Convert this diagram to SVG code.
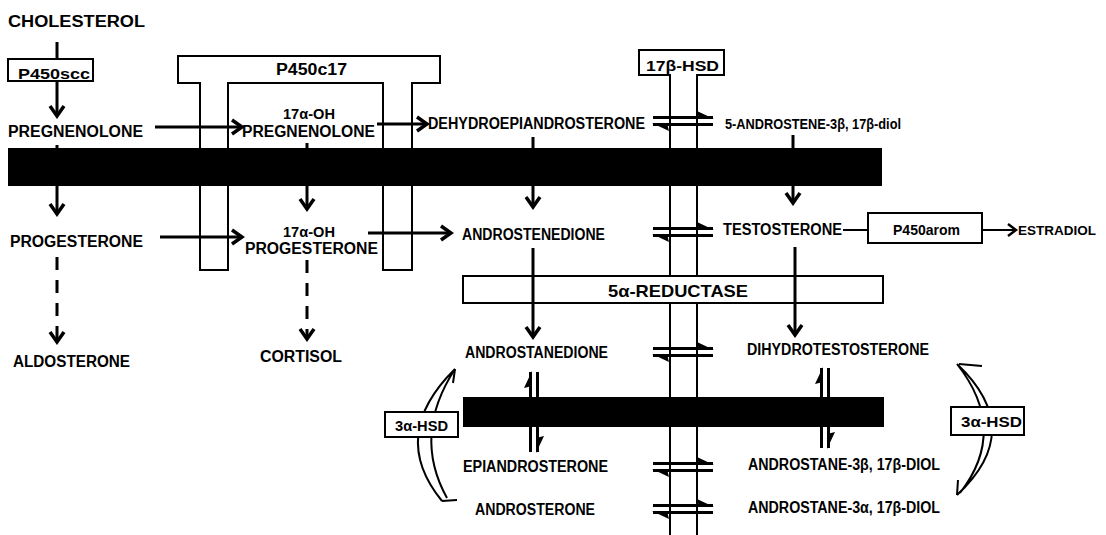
<svg xmlns="http://www.w3.org/2000/svg" xmlns:xlink="http://www.w3.org/1999/xlink" width="1106" height="535" viewBox="0 0 1106 535">
<style>
.t{font-family:"Liberation Sans",Arial,sans-serif;font-weight:bold;font-size:16px;fill:#000}
.s{font-size:15px}
.ln{stroke:#000;stroke-width:3;fill:none}
.th{stroke:#000;stroke-width:2;fill:none}
.box{fill:#fff;stroke:#000;stroke-width:2}
.bar{fill:#000}
.dash{stroke-dasharray:13 10}
</style>
<defs>
<marker id="ah" markerUnits="userSpaceOnUse" markerWidth="16" markerHeight="18" viewBox="0 0 16 18" refX="13" refY="9" orient="auto">
<path d="M3,2 L13,9 L3,16" fill="none" stroke="#000" stroke-width="3.5"/>
</marker>
<marker id="ahs" markerUnits="userSpaceOnUse" markerWidth="14" markerHeight="16" viewBox="0 0 14 16" refX="11" refY="8" orient="auto">
<path d="M3,2 L11,8 L3,14" fill="none" stroke="#000" stroke-width="2.5"/>
</marker>
<g id="eq">
<path d="M0,-3.5 H60 M0,3.5 H60" stroke="#000" stroke-width="3" fill="none"/>
<path d="M61,-2 L44,-10 L46,-2 Z M-1,2 L16,10 L14,2 Z" fill="#000"/>
</g>
<g id="veq">
<path d="M-3.5,0 V80 M3.5,0 V80" stroke="#000" stroke-width="3" fill="none"/>
<path d="M-2,-1 L-10,16 L-2,14 Z M2,81 L10,64 L2,66 Z" fill="#000"/>
</g>
</defs>
<rect width="1106" height="535" fill="#fff"/>

<g id="enzyme-P450c17">
<path class="box" d="M200,270 V83 H178 V56 H440 V83 H412 V270 H383 V83 H228 V270 Z"/>
<text class="t" x="276" y="75" textLength="71" lengthAdjust="spacingAndGlyphs">P450c17</text>
</g>
<g id="enzyme-17bHSD">
<path class="box" d="M670,535 V75 H639 V50 H724 V75 H697 V535"/>
<text class="t s" x="646" y="71" textLength="73" lengthAdjust="spacingAndGlyphs">17β-HSD</text>
</g>
<g id="enzyme-5aReductase">
<rect class="box" x="463" y="276" width="420" height="27"/>
<text class="t" x="608" y="297" style="font-size:17px" textLength="140" lengthAdjust="spacingAndGlyphs">5α-REDUCTASE</text>
</g>

<g id="vertical-equilibria">
<use xlink:href="#veq" x="534" y="372"/>
<use xlink:href="#veq" x="825" y="368"/>
</g>

<g id="membranes">
<rect class="bar" x="8" y="148" width="874" height="38"/>
<rect class="bar" x="463" y="397" width="421" height="30"/>
</g>

<g id="connectors">
<path class="ln" d="M57,42 V59"/>
<path class="ln" d="M57,81 V116" marker-end="url(#ah)"/>
<path class="ln" d="M57,145 V214" marker-end="url(#ah)"/>
<path class="ln dash" d="M57,257 V342" marker-end="url(#ah)"/>
<path class="ln" d="M155,127 H242" marker-end="url(#ah)"/>
<path class="ln" d="M160,237 H242" marker-end="url(#ah)"/>
<path class="ln" d="M307,143 V209" marker-end="url(#ah)"/>
<path class="ln dash" d="M307,260 V339" marker-end="url(#ah)"/>
<path class="ln" d="M377,124 H427" marker-end="url(#ah)"/>
<path class="ln" d="M368,233 H451" marker-end="url(#ah)"/>
<path class="ln" d="M533,137 V207" marker-end="url(#ah)"/>
<path class="ln" d="M793,135 V203" marker-end="url(#ah)"/>
<path class="ln" d="M533,248 V337" marker-end="url(#ah)"/>
<path class="ln" d="M795,247 V335" marker-end="url(#ah)"/>
<path class="th" d="M843,230 H868"/>
<path class="th" d="M982,230 H1016" marker-end="url(#ahs)"/>
<use xlink:href="#eq" x="653" y="121"/>
<use xlink:href="#eq" x="653" y="232"/>
<use xlink:href="#eq" x="653" y="352"/>
<use xlink:href="#eq" x="653" y="467"/>
<use xlink:href="#eq" x="653" y="509"/>
<path class="th" d="M455,369 Q388,435 442,501 M455,369 Q412,435 447,498"/>
<path class="th" d="M455,369 L453,383 M442,501 L457,500"/>
<path class="th" d="M957,364 Q1027,430 957,495 M957,364 Q1009,430 960,493"/>
<path class="th" d="M959,364 L982,366 M957,495 L958,480"/>
</g>

<g id="node-cholesterol"><text class="t" x="8" y="27" textLength="137" lengthAdjust="spacingAndGlyphs">CHOLESTEROL</text></g>
<g id="enzyme-P450scc">
<rect class="box" x="8" y="59" width="85" height="22"/>
<text class="t s" x="18" y="79" textLength="72" lengthAdjust="spacingAndGlyphs">P450scc</text>
</g>
<g id="node-pregnenolone"><text class="t" x="8" y="137" textLength="135" lengthAdjust="spacingAndGlyphs">PREGNENOLONE</text></g>
<g id="node-17oh-pregnenolone">
<text class="t s" x="283" y="119" textLength="52" lengthAdjust="spacingAndGlyphs">17α-OH</text>
<text class="t" x="242" y="137" textLength="133" lengthAdjust="spacingAndGlyphs">PREGNENOLONE</text>
</g>
<g id="node-dhea"><text class="t" x="428" y="129" textLength="217" lengthAdjust="spacingAndGlyphs">DEHYDROEPIANDROSTERONE</text></g>
<g id="node-androstenediol"><text class="t s" x="725" y="129" textLength="176" lengthAdjust="spacingAndGlyphs">5-ANDROSTENE-3β, 17β-diol</text></g>
<g id="node-progesterone"><text class="t" x="10" y="247" textLength="133" lengthAdjust="spacingAndGlyphs">PROGESTERONE</text></g>
<g id="node-17oh-progesterone">
<text class="t s" x="283" y="237" textLength="52" lengthAdjust="spacingAndGlyphs">17α-OH</text>
<text class="t" x="245" y="254" textLength="133" lengthAdjust="spacingAndGlyphs">PROGESTERONE</text>
</g>
<g id="node-androstenedione"><text class="t" x="462" y="240" textLength="143" lengthAdjust="spacingAndGlyphs">ANDROSTENEDIONE</text></g>
<g id="node-testosterone"><text class="t" x="723" y="235" textLength="119" lengthAdjust="spacingAndGlyphs">TESTOSTERONE</text></g>
<g id="enzyme-P450arom">
<rect class="box" x="868" y="213" width="114" height="30"/>
<text class="t s" x="893" y="235" textLength="67" lengthAdjust="spacingAndGlyphs">P450arom</text>
</g>
<g id="node-estradiol"><text class="t" x="1018" y="235" style="font-size:13.5px">ESTRADIOL</text></g>
<g id="node-aldosterone"><text class="t" x="13" y="367" textLength="117" lengthAdjust="spacingAndGlyphs">ALDOSTERONE</text></g>
<g id="node-cortisol"><text class="t" x="260" y="362" textLength="82" lengthAdjust="spacingAndGlyphs">CORTISOL</text></g>
<g id="node-androstanedione"><text class="t" x="465" y="358" textLength="143" lengthAdjust="spacingAndGlyphs">ANDROSTANEDIONE</text></g>
<g id="node-dht"><text class="t" x="747" y="355" textLength="182" lengthAdjust="spacingAndGlyphs">DIHYDROTESTOSTERONE</text></g>
<g id="enzyme-3aHSD-left">
<rect class="box" x="385" y="412" width="73" height="25"/>
<text class="t s" x="395" y="431" textLength="53" lengthAdjust="spacingAndGlyphs">3α-HSD</text>
</g>
<g id="enzyme-3aHSD-right">
<rect class="box" x="951" y="407" width="73" height="28"/>
<text class="t s" x="961" y="427" textLength="61" lengthAdjust="spacingAndGlyphs">3α-HSD</text>
</g>
<g id="node-epiandrosterone"><text class="t" x="463" y="472" textLength="145" lengthAdjust="spacingAndGlyphs">EPIANDROSTERONE</text></g>
<g id="node-androsterone"><text class="t" x="475" y="515" textLength="120" lengthAdjust="spacingAndGlyphs">ANDROSTERONE</text></g>
<g id="node-androstane-3b-diol"><text class="t" x="748" y="470" textLength="192" lengthAdjust="spacingAndGlyphs">ANDROSTANE-3β, 17β-DIOL</text></g>
<g id="node-androstane-3a-diol"><text class="t" x="748" y="513" textLength="192" lengthAdjust="spacingAndGlyphs">ANDROSTANE-3α, 17β-DIOL</text></g>
</svg>
